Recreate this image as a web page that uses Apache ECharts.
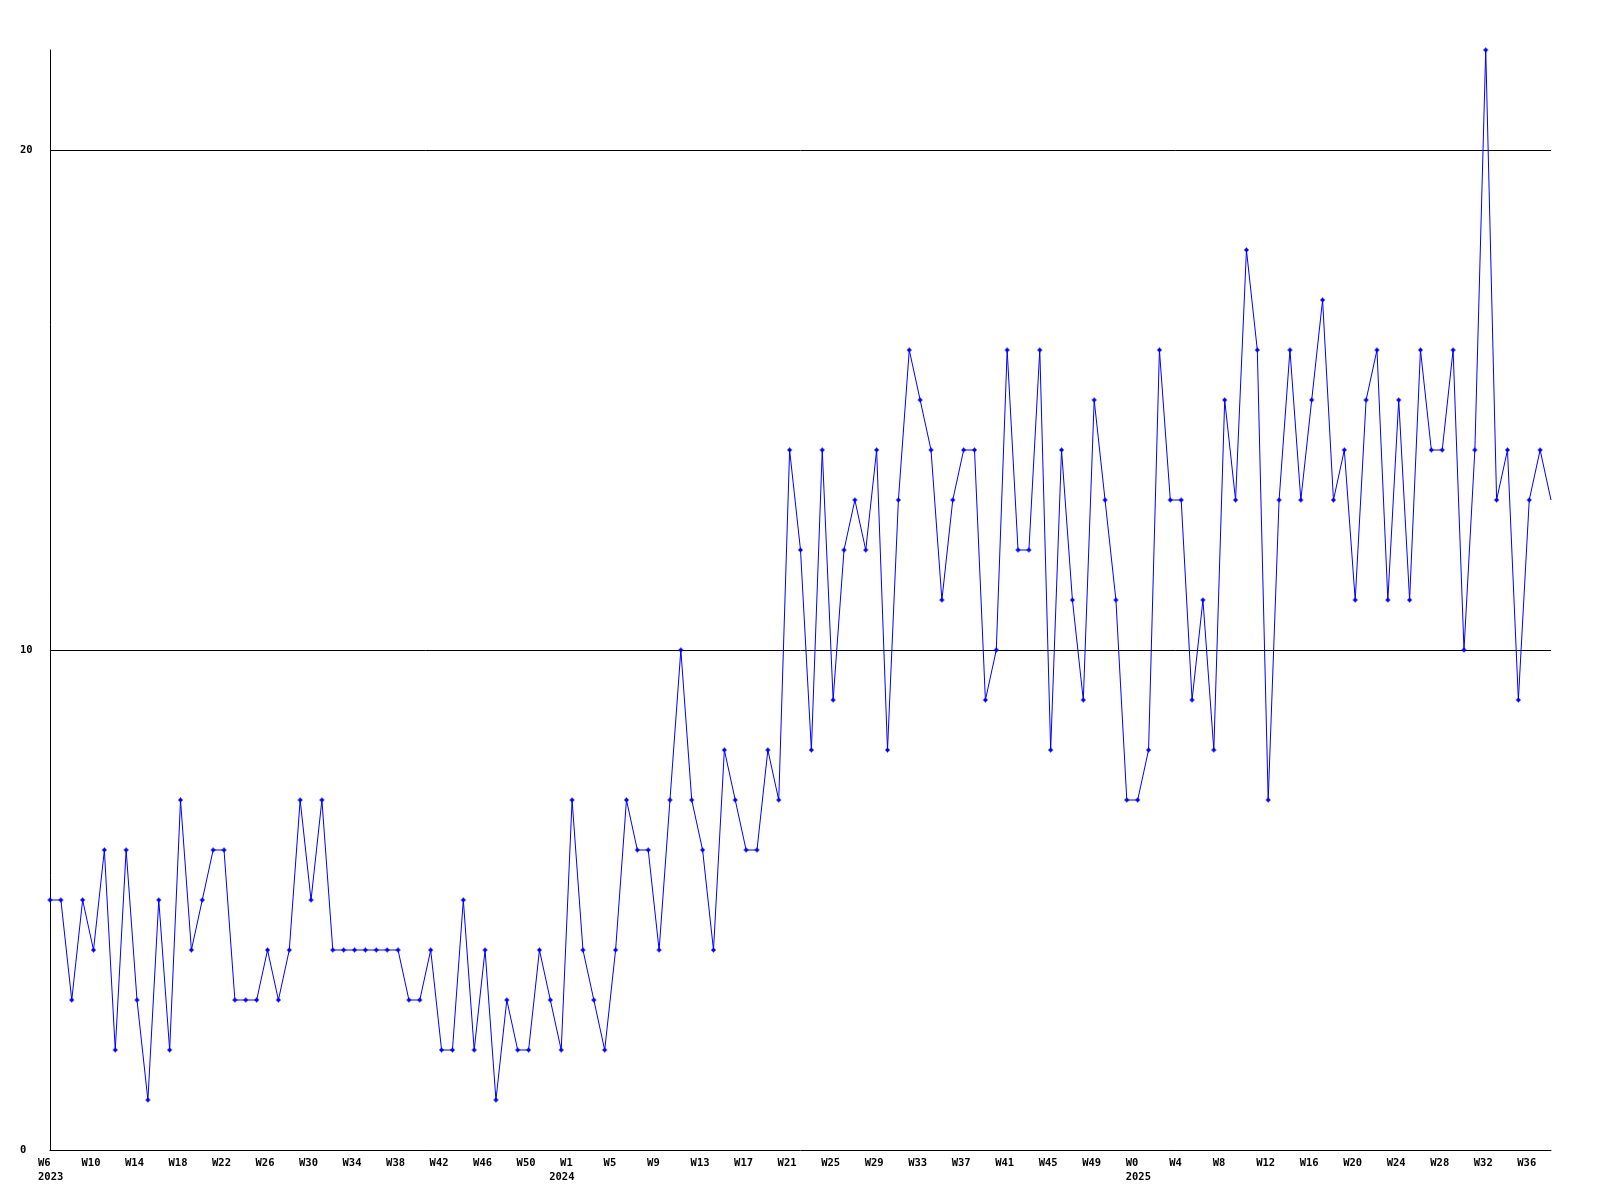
<!DOCTYPE html>
<html>
<head>
<meta charset="utf-8">
<script src="https://cdn.jsdelivr.net/npm/echarts@6/dist/echarts.min.js"></script>
<style>
  html, body { margin: 0; padding: 0; background: #ffffff; }
  #chart { width: 1600px; height: 1200px; }
</style>
</head>
<body>
<div id="chart"></div>
<script>
// Weekly counts, W6 2023 .. W38 2025
const values = [
  5, 5, 3, 5, 4, 6, 2, 6, 3, 1,
  5, 2, 7, 4, 5, 6, 6, 3, 3, 3,
  4, 3, 4, 7, 5, 7, 4, 4, 4, 4,
  4, 4, 4, 3, 3, 4, 2, 2, 5, 2,
  4, 1, 3, 2, 2, 4, 3, 2, 7, 4,
  3, 2, 4, 7, 6, 6, 4, 7, 10, 7,
  6, 4, 8, 7, 6, 6, 8, 7, 14, 12,
  8, 14, 9, 12, 13, 12, 14, 8, 13, 16,
  15, 14, 11, 13, 14, 14, 9, 10, 16, 12,
  12, 16, 8, 14, 11, 9, 15, 13, 11, 7,
  7, 8, 16, 13, 13, 9, 11, 8, 15, 13,
  18, 16, 7, 13, 16, 13, 15, 17, 13, 14,
  11, 15, 16, 11, 15, 11, 16, 14, 14, 16,
  10, 14, 22, 13, 14, 9, 13, 14, 13
];

// week label runs: [year, first week, last week]
const weekRuns = [[2023, 6, 52], [2024, 0, 52], [2025, 0, 38]];
const yTicks = [0, 10, 20];

const weeks = [];
const yearAt = {};
weekRuns.forEach(([y, a, b]) => {
  yearAt[weeks.length] = String(y);
  for (let w = a; w <= b; w++) weeks.push('W' + w);
});

const FONT = 'DejaVu Sans Mono';
const chart = echarts.init(document.getElementById('chart'), null, { renderer: 'canvas' });

const seriesData = values.map((v, i) => i === values.length - 1 ? { value: v, symbol: 'none' } : v);

chart.setOption({
  animation: false,
  backgroundColor: '#ffffff',
  grid: { left: 50, right: 49, top: 50, bottom: 50, containLabel: false },
  xAxis: {
    type: 'category',
    data: weeks,
    boundaryGap: false,
    axisLine: { show: true, lineStyle: { color: '#000000', width: 1 } },
    axisTick: { show: false },
    splitLine: { show: false },
    axisLabel: {
      interval: (idx) => idx % 4 === 0 || yearAt[idx] !== undefined,
      align: 'right',
      margin: 6,
      color: '#000000',
      fontFamily: FONT,
      fontWeight: 'bold',
      fontSize: 10.5,
      formatter: (val, idx) => {
        const wk = idx % 4 === 0 ? val : ' ';
        const yr = yearAt[idx];
        return yr ? '{w|' + wk + '}\n{w|' + yr + '}' : '{w|' + wk + '}';
      },
      rich: {
        w: { width: 12, align: 'left', lineHeight: 14.5, fontFamily: FONT, fontWeight: 'bold', fontSize: 10.5, color: '#000000' }
      }
    }
  },
  yAxis: {
    type: 'value',
    min: 0,
    max: 22,
    interval: 10,
    axisLine: { show: true, lineStyle: { color: '#000000', width: 1 } },
    axisTick: { show: false },
    splitLine: { show: true, showMinLine: false, showMaxLine: false, lineStyle: { color: '#000000', width: 1 } },
    axisLabel: {
      showMaxLabel: false,
      align: 'left',
      margin: 30,
      color: '#000000',
      fontFamily: FONT,
      fontWeight: 'bold',
      fontSize: 10.5,
      formatter: (v) => yTicks.includes(v) ? String(v) : ''
    }
  },
  series: [{
    type: 'line',
    data: seriesData,
    showSymbol: true,
    showAllSymbol: true,
    symbol: 'path://M2,0H3V1H4V2H5V3H4V4H3V5H2V4H1V3H0V2H1V1H2Z',
    symbolSize: 5,
    itemStyle: { color: '#0000ff' },
    lineStyle: { color: '#0000ff', width: 1 },
    clip: false
  }]
});
</script>
</body>
</html>
